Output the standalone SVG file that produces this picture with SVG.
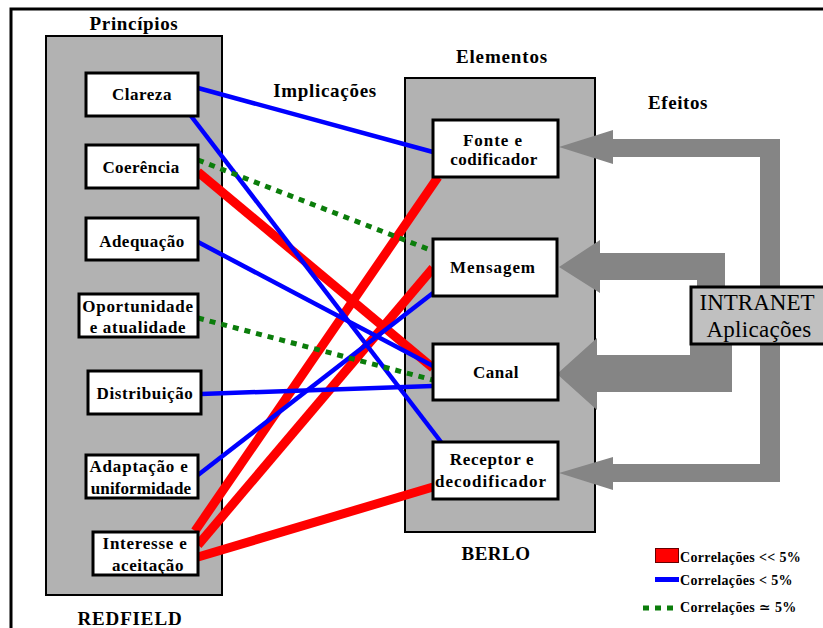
<svg xmlns="http://www.w3.org/2000/svg" width="823" height="628" viewBox="0 0 823 628">
  <style>
    .frame { fill: none; stroke: #000; stroke-width: 3; }
    .panel { fill: #b2b2b2; stroke: #000; stroke-width: 2; }
    .box { fill: #fff; stroke: #000; stroke-width: 3; }
    .app { fill: #c0c0c0; stroke: #000; stroke-width: 3; }
    .effect { fill: #858585; }
    .lbl { font-family: 'Liberation Serif', 'Times New Roman', serif; font-weight: bold; font-size: 17px; fill: #000; text-anchor: middle; }
    .head { font-family: 'Liberation Serif', 'Times New Roman', serif; font-weight: bold; font-size: 19px; fill: #000; text-anchor: middle; }
    .big { font-family: 'Liberation Serif', 'Times New Roman', serif; font-size: 23px; fill: #000; text-anchor: middle; }
    .leg { font-family: 'Liberation Serif', 'DejaVu Serif', serif; font-weight: bold; font-size: 14px; fill: #000; letter-spacing: 0.35px; }
    .strong { stroke: #ff0000; stroke-width: 9; fill: none; }
    .medium { stroke: #0000ff; stroke-width: 4.5; fill: none; }
    .weak { stroke: #0b7d0b; stroke-width: 5; stroke-dasharray: 6 6; fill: none; }
  </style>

  <rect x="0" y="0" width="823" height="628" fill="#fff"/>
  <path class="frame" d="M11,640 V9 H830"/>

  <!-- column panels -->
  <g id="redfield">
    <rect class="panel" x="46" y="36" width="176" height="559"/>
    <text class="head" x="134" y="30" style="letter-spacing:0.65px">Princípios</text>
    <text class="head" x="130" y="625" style="letter-spacing:0.85px">REDFIELD</text>
  </g>
  <g id="berlo">
    <rect class="panel" x="405" y="78" width="190" height="454"/>
    <text class="head" x="502" y="63" style="letter-spacing:0.85px">Elementos</text>
    <text class="head" x="496" y="560" style="letter-spacing:0.5px">BERLO</text>
  </g>
  <text class="head" x="325" y="97" style="letter-spacing:0.7px">Implicações</text>
  <text class="head" x="678" y="109" style="letter-spacing:0.55px">Efeitos</text>

  <!-- effect arrows from the intranet applications -->
  <g id="effects">
    <polygon class="effect" points="559,147 613,130 613,139 780,139 780,482 613,482 613,490 559,473 613,457 613,464 760,464 760,157 613,157 613,164"/>
    <polygon class="effect" points="559,267 600,240 600,253 725,253 725,289 697,289 697,280 600,280 600,293"/>
    <polygon class="effect" points="557,374 597,338 597,355 690,355 690,343 732,343 732,392 597,392 597,410"/>
  </g>

  <!-- correlation connectors -->
  <g id="connectors">
    <line class="strong" x1="198" y1="172" x2="433" y2="368"/>
    <line class="strong" x1="195" y1="531" x2="438" y2="177"/>
    <line class="strong" x1="198" y1="545" x2="433" y2="268"/>
    <line class="strong" x1="198" y1="557" x2="433" y2="487"/>
    <line class="medium" x1="198" y1="88" x2="433" y2="152"/>
    <line class="medium" x1="191" y1="116" x2="441" y2="442"/>
    <line class="medium" x1="198" y1="242" x2="433" y2="366"/>
    <line class="medium" x1="201" y1="394" x2="433" y2="386"/>
    <line class="medium" x1="198" y1="475" x2="433" y2="293"/>
    <line class="weak" x1="198" y1="160" x2="433" y2="251"/>
    <line class="weak" x1="198" y1="318" x2="433" y2="380"/>
  </g>

  <!-- principles -->
  <g id="clareza">
    <rect class="box" x="86" y="73" width="112" height="43"/>
    <text class="lbl" x="142" y="100" style="letter-spacing:0.5px">Clareza</text>
  </g>
  <g id="coerencia">
    <rect class="box" x="86" y="145" width="112" height="43"/>
    <text class="lbl" x="141" y="173" style="letter-spacing:0.4px">Coerência</text>
  </g>
  <g id="adequacao">
    <rect class="box" x="86" y="218" width="112" height="42"/>
    <text class="lbl" x="142" y="247" style="letter-spacing:0.5px">Adequação</text>
  </g>
  <g id="oportunidade">
    <rect class="box" x="79" y="294" width="119" height="43"/>
    <text class="lbl" x="138" y="312" style="letter-spacing:0.7px">Oportunidade</text>
    <text class="lbl" x="138" y="333" style="letter-spacing:0.7px">e atualidade</text>
  </g>
  <g id="distribuicao">
    <rect class="box" x="88" y="371" width="113" height="43"/>
    <text class="lbl" x="145" y="399" style="letter-spacing:0.6px">Distribuição</text>
  </g>
  <g id="adaptacao">
    <rect class="box" x="86" y="455" width="112" height="43"/>
    <text class="lbl" x="139" y="472" style="letter-spacing:0.8px">Adaptação e</text>
    <text class="lbl" x="141" y="494" style="letter-spacing:0.1px">uniformidade</text>
  </g>
  <g id="interesse">
    <rect class="box" x="93" y="532" width="105" height="43"/>
    <text class="lbl" x="145" y="549" style="letter-spacing:0.75px">Interesse e</text>
    <text class="lbl" x="148" y="571" style="letter-spacing:0.55px">aceitação</text>
  </g>

  <!-- communication elements -->
  <g id="fonte">
    <rect class="box" x="433" y="120" width="125" height="57"/>
    <text class="lbl" x="493" y="146" style="letter-spacing:0.95px">Fonte e</text>
    <text class="lbl" x="494" y="165" style="letter-spacing:0.5px">codificador</text>
  </g>
  <g id="mensagem">
    <rect class="box" x="433" y="239" width="124" height="57"/>
    <text class="lbl" x="493" y="273" style="letter-spacing:0.95px">Mensagem</text>
  </g>
  <g id="canal">
    <rect class="box" x="433" y="344" width="125" height="56"/>
    <text class="lbl" x="496" y="378" style="letter-spacing:0.5px">Canal</text>
  </g>
  <g id="receptor">
    <rect class="box" x="433" y="442" width="125" height="57"/>
    <text class="lbl" x="492" y="465" style="letter-spacing:0.7px">Receptor e</text>
    <text class="lbl" x="491" y="487" style="letter-spacing:1px">decodificador</text>
  </g>

  <!-- applications -->
  <g id="intranet">
    <rect class="app" x="691" y="287" width="140" height="57"/>
    <text class="big" x="757" y="310">INTRANET</text>
    <text class="big" x="759" y="337" style="letter-spacing:0.3px">Aplicações</text>
  </g>

  <!-- legend -->
  <g id="legend">
    <rect x="655.5" y="548.5" width="23" height="14" fill="#ff0000" stroke="#600" stroke-width="1"/>
    <text class="leg" x="680" y="562">Correlações &lt;&lt; 5%</text>
    <rect x="655" y="577" width="24" height="5" fill="#0000ff"/>
    <text class="leg" x="680" y="585">Correlações &lt; 5%</text>
    <line class="weak" x1="643" y1="608" x2="679" y2="608" stroke-dasharray="5 7"/>
    <text class="leg" x="680" y="612">Correlações ≃ 5%</text>
  </g>
</svg>
